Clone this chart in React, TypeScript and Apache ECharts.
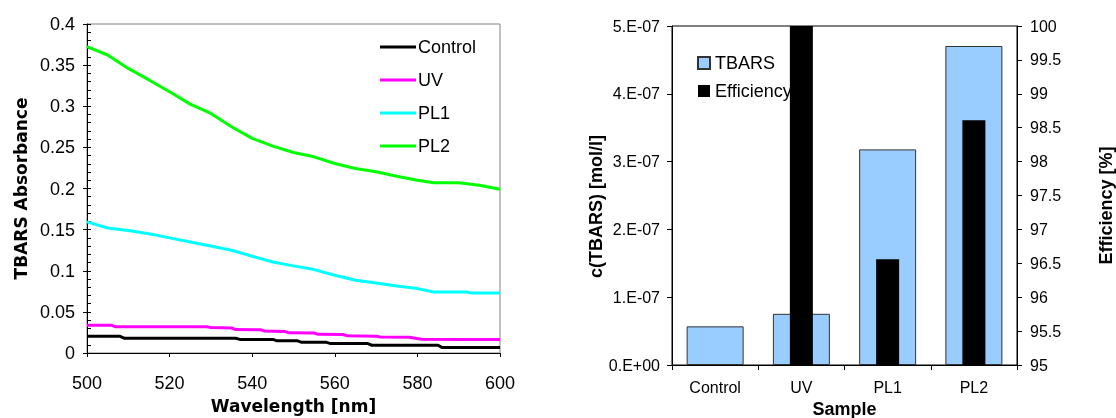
import React, { useEffect, useRef } from "react";
import * as echarts from "echarts";

// ---- Left chart: TBARS absorbance spectra ----
const controlSpectrum: [number, number][] = [
  [500, 0.0203], [508, 0.0203], [509, 0.018], [536, 0.018], [537, 0.0165], [545, 0.0165],
  [546, 0.0148], [551, 0.0148], [552, 0.013], [558, 0.013], [559, 0.0114], [568, 0.0114],
  [569, 0.0094], [585, 0.0094], [586, 0.0066], [600, 0.0066],
];
const uvSpectrum: [number, number][] = [
  [500, 0.0337], [506, 0.0337], [507, 0.0318], [529, 0.0318], [530, 0.031], [535, 0.0305],
  [536, 0.0285], [542, 0.0282], [543, 0.0268], [548, 0.026], [549, 0.0245], [555, 0.0243],
  [556, 0.0227], [562, 0.0225], [563, 0.021], [570, 0.0205], [571, 0.0195], [578, 0.0192],
  [581, 0.0166], [590, 0.0165], [600, 0.0163],
];
const pl1Spectrum: [number, number][] = [
  [500, 0.1594], [505, 0.152], [510, 0.149], [515, 0.145], [520, 0.14], [525, 0.135],
  [530, 0.13], [535, 0.125], [540, 0.1176], [545, 0.1107], [550, 0.1059], [555, 0.1014],
  [560, 0.0945], [565, 0.0884], [570, 0.0852], [575, 0.0815], [580, 0.0783], [584, 0.0742],
  [592, 0.0742], [593, 0.0728], [600, 0.0728],
];
const pl2Spectrum: [number, number][] = [
  [500, 0.3724], [505, 0.3623], [510, 0.346], [515, 0.332], [520, 0.3176], [525, 0.3026],
  [530, 0.2913], [535, 0.275], [540, 0.261], [545, 0.2515], [550, 0.2438], [555, 0.2385],
  [560, 0.2304], [565, 0.2243], [570, 0.2203], [575, 0.215], [580, 0.21], [584, 0.207],
  [590, 0.207], [595, 0.204], [600, 0.199],
];
const spectrumNames = ["Control", "UV", "PL1", "PL2"];
const spectrumColors = ["#000000", "#FF00FF", "#00FFFF", "#00FF00"];

// ---- Right chart: TBARS concentration and efficiency ----
const samples = ["Control", "UV", "PL1", "PL2"];
const tbarsConc = [5.7e-8, 7.55e-8, 3.18e-7, 4.705e-7];
const efficiency: (number | null)[] = [null, 100, 96.56, 98.61];

const FONT = "'Liberation Sans', Arial, sans-serif";

export default function App() {
  const ref = useRef<HTMLDivElement>(null);
  useEffect(() => {
    if (!ref.current) return;
    const chart = echarts.init(ref.current, null, { renderer: "svg" });
    const spectra = [controlSpectrum, uvSpectrum, pl1Spectrum, pl2Spectrum];
    const option: any = {
      animation: false,
      textStyle: { fontFamily: FONT, color: "#000" },
      grid: [
        {
          left: 87, top: 24, width: 413, height: 329, show: true, borderColor: "#808080", borderWidth: 1,
          containLabel: false, outerBoundsMode: "none",
        },
        {
          left: 672, top: 26, width: 345, height: 339, show: true, borderColor: "#000", borderWidth: 1,
          containLabel: false, outerBoundsMode: "none",
        },
      ],
      legend: [
        {
          data: spectrumNames,
          orient: "vertical",
          left: 375,
          top: 33,
          icon: "rect",
          itemWidth: 36,
          itemHeight: 3,
          itemGap: 15,
          textStyle: { fontFamily: FONT, fontSize: 18, color: "#000", padding: [0, 0, 0, -3] },
        },
        {
          data: ["TBARS", "Efficiency"],
          orient: "vertical",
          left: 692,
          top: 49,
          icon: "rect",
          itemWidth: 12,
          itemHeight: 12,
          itemGap: 10,
          textStyle: { fontFamily: FONT, fontSize: 18, color: "#000", padding: [0, 0, 0, 0] },
        },
      ],
      xAxis: [
        {
          gridIndex: 0,
          type: "value",
          min: 500,
          max: 600,
          interval: 20,
          name: "Wavelength [nm]",
          nameLocation: "middle",
          nameGap: 44,
          nameTextStyle: { fontFamily: "'DejaVu Sans', sans-serif", fontWeight: "bold", fontSize: 17, color: "#000" },
          axisLine: { lineStyle: { color: "#000", width: 1 } },
          axisTick: { show: true, length: 4, lineStyle: { color: "#000" } },
          axisLabel: { fontSize: 18, color: "#000", margin: 21, fontFamily: FONT },
          splitLine: { show: false },
        },
        {
          gridIndex: 1,
          type: "category",
          data: samples,
          name: "Sample",
          nameLocation: "middle",
          nameGap: 30,
          nameTextStyle: { fontFamily: FONT, fontWeight: "bold", fontSize: 18, color: "#000" },
          axisLine: { lineStyle: { color: "#000", width: 1 } },
          axisTick: { show: true, length: 5, lineStyle: { color: "#000" } },
          axisLabel: { fontSize: 16, color: "#000", margin: 14, fontFamily: FONT },
        },
        {
          gridIndex: 1,
          type: "category",
          data: samples,
          show: false,
        },
      ],
      yAxis: [
        {
          gridIndex: 0,
          type: "value",
          min: 0,
          max: 0.4,
          interval: 0.05,
          name: "TBARS Absorbance",
          nameLocation: "middle",
          nameGap: 58,
          nameTextStyle: { fontFamily: "'DejaVu Sans', sans-serif", fontWeight: "bold", fontSize: 17, color: "#000" },
          axisLine: { show: true, lineStyle: { color: "#000", width: 1 } },
          axisTick: { show: true, length: 4, lineStyle: { color: "#000" } },
          axisLabel: { fontSize: 18, color: "#000", margin: 12, fontFamily: FONT },
          splitLine: { show: false },
        },
        {
          gridIndex: 0,
          type: "value",
          position: "left",
          min: 0,
          max: 0.4,
          interval: 0.01,
          axisLine: { show: false },
          axisTick: { show: true, inside: true, length: 4, lineStyle: { color: "#000" } },
          axisLabel: { show: false },
          splitLine: { show: false },
        },
        {
          gridIndex: 1,
          type: "value",
          position: "left",
          min: 0,
          max: 5e-7,
          interval: 1e-7,
          name: "c(TBARS) [mol/l]",
          nameLocation: "middle",
          nameGap: 61,
          nameTextStyle: { fontFamily: FONT, fontWeight: "bold", fontSize: 18, color: "#000", padding: [0, 22, 0, 0] },
          axisLine: { show: true, lineStyle: { color: "#000", width: 1 } },
          axisTick: { show: true, length: 5, lineStyle: { color: "#000" } },
          axisLabel: {
            fontSize: 16,
            color: "#000",
            margin: 12,
            fontFamily: FONT,
            formatter: (v: number) => (v === 0 ? "0.E+00" : Math.round(v / 1e-7) + ".E-07"),
          },
          splitLine: { show: false },
        },
        {
          gridIndex: 1,
          type: "value",
          position: "right",
          min: 95,
          max: 100,
          interval: 0.5,
          name: "Efficiency [%]",
          nameLocation: "middle",
          nameGap: 80,
          nameTextStyle: { fontFamily: FONT, fontWeight: "bold", fontSize: 18, color: "#000", padding: [0, 20, 0, 0] },
          axisLine: { show: true, lineStyle: { color: "#000", width: 1 } },
          axisTick: { show: true, length: 5, lineStyle: { color: "#000" } },
          axisLabel: { fontSize: 16, color: "#000", margin: 13, fontFamily: FONT },
          splitLine: { show: false },
        },
      ],
      series: [
        ...spectra.map((d, i) => ({
          name: spectrumNames[i],
          type: "line",
          xAxisIndex: 0,
          yAxisIndex: 0,
          data: d,
          symbol: "none",
          lineStyle: { color: spectrumColors[i], width: 3 },
          itemStyle: { color: spectrumColors[i] },
          z: 10 - i,
        })),
        {
          name: "TBARS",
          type: "bar",
          xAxisIndex: 1,
          yAxisIndex: 2,
          data: tbarsConc,
          barWidth: 57,
          itemStyle: { color: "#99CCFF", borderColor: "#333333", borderWidth: 1 },
        },
        {
          name: "Efficiency",
          type: "bar",
          xAxisIndex: 2,
          yAxisIndex: 3,
          data: efficiency,
          barWidth: 23,
          itemStyle: { color: "#000000" },
          z: 3,
        },
      ],
    };
    chart.setOption(option);
    return () => chart.dispose();
  }, []);
  return <div ref={ref} style={{ position: "fixed", left: 0, top: 0, width: 1116, height: 418 }} />;
}
